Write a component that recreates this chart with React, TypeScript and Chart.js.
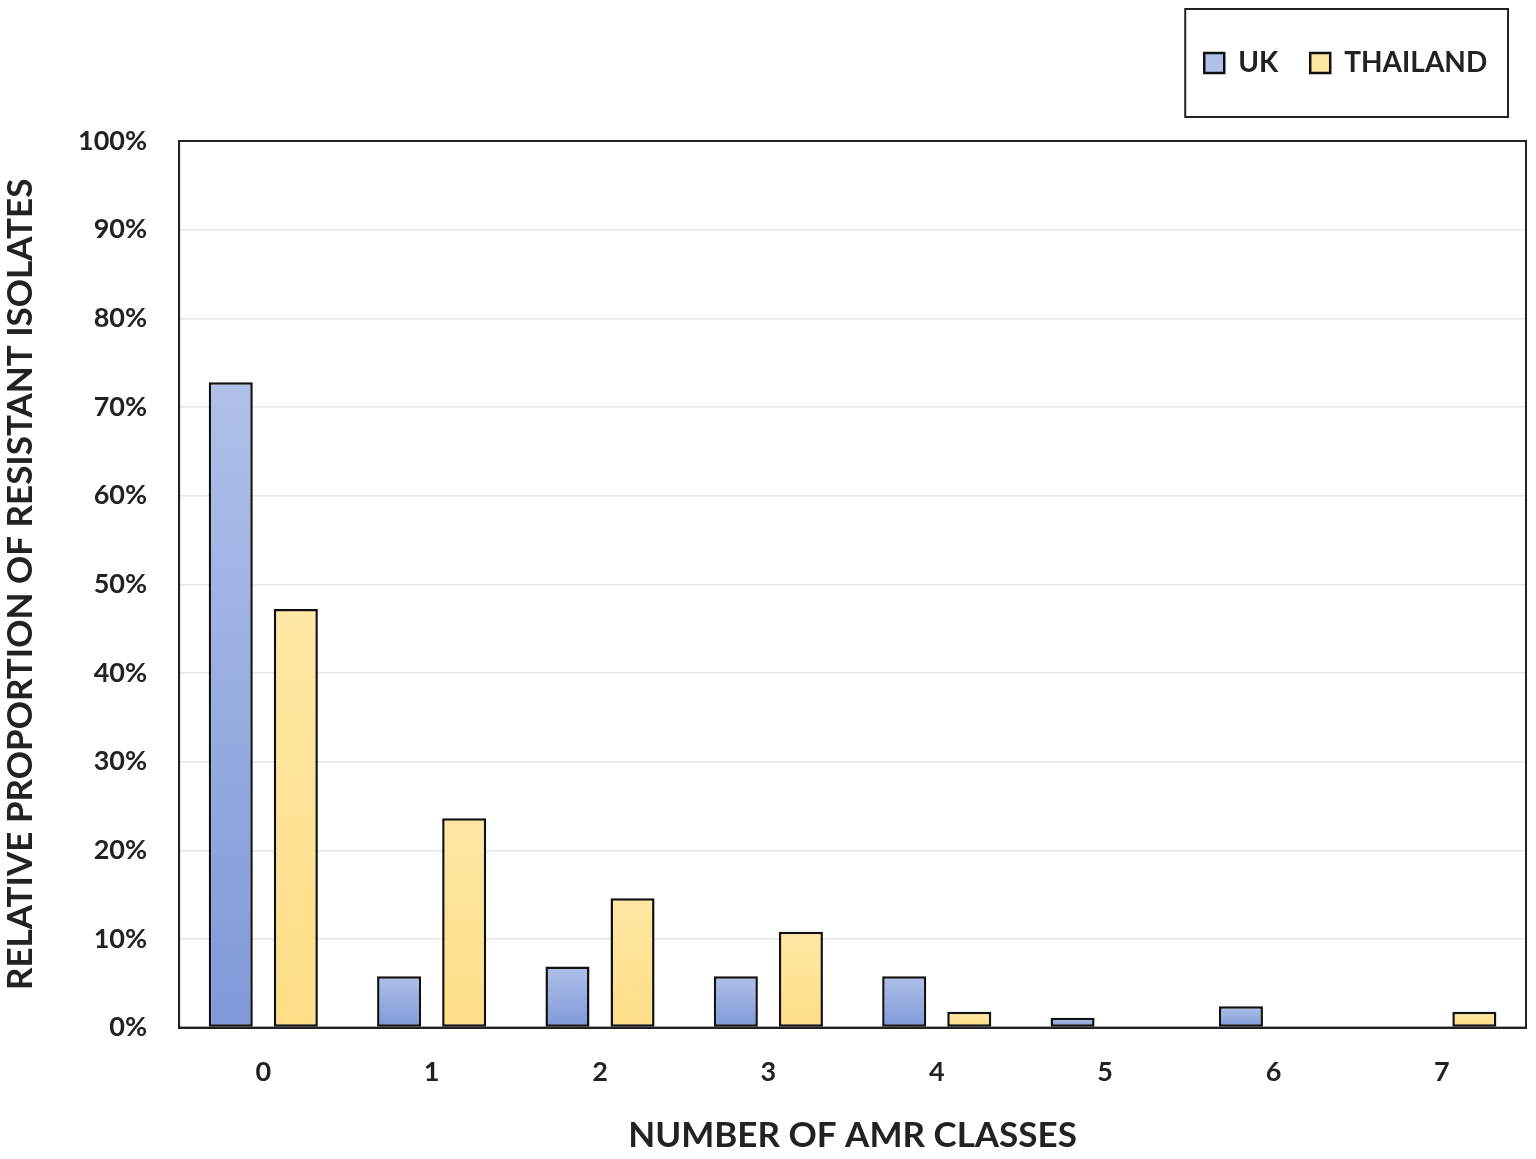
import React, { useEffect, useRef } from 'react';
import { Chart, registerables } from 'chart.js';

Chart.register(...registerables);

// AMR class counts and share of isolates (%) per country
const classes = ['0', '1', '2', '3', '4', '5', '6', '7'];
const ukValues = [72.8, 5.8, 6.9, 5.8, 5.8, 1.1, 2.4, 0];
const thailandValues = [47.2, 23.6, 14.6, 10.8, 1.8, 0, 0, 1.8];
const yTicks = [0, 10, 20, 30, 40, 50, 60, 70, 80, 90, 100];

const FONT = 'Lato, "Open Sans", sans-serif';

const gradientFill = (top: string, bottom: string, fallback: string) => (c: any) => {
  const chart = c.chart;
  const y = chart.scales && chart.scales.y;
  if (!y || c.raw == null) return fallback;
  const y0 = y.getPixelForValue(c.raw);
  const y1 = y.getPixelForValue(0);
  if (!isFinite(y0) || !isFinite(y1) || y0 === y1) return fallback;
  const g = chart.ctx.createLinearGradient(0, y0, 0, y1);
  g.addColorStop(0, top);
  g.addColorStop(1, bottom);
  return g;
};

// frame around the plot area and around the legend
const framePlugin = {
  id: 'frames',
  afterDraw(chart: any) {
    const { ctx, chartArea } = chart;
    ctx.save();
    ctx.strokeStyle = '#222';
    ctx.lineWidth = 2;
    ctx.strokeRect(chartArea.left, chartArea.top, chartArea.right - chartArea.left, chartArea.bottom - chartArea.top);
    const boxes = chart.legend && chart.legend.legendHitBoxes;
    if (boxes && boxes.length) {
      const left = Math.min(...boxes.map((b: any) => b.left));
      const right = Math.max(...boxes.map((b: any) => b.left + b.width));
      const mid = boxes[0].top + boxes[0].height / 2;
      ctx.strokeRect(left - 19, mid - 54, right - left + 33, 108);
    }
    ctx.restore();
  },
};

const App = () => {
  const canvasRef = useRef<HTMLCanvasElement>(null);
  const chartRef = useRef<any>(null);

  useEffect(() => {
    document.body.style.margin = '0';
    if (!canvasRef.current) return;

    const config: any = {
      type: 'bar',
      data: {
        labels: classes,
        datasets: [
          {
            label: 'UK',
            data: ukValues,
            backgroundColor: gradientFill('#b0c0e9', '#7f99d9', '#a3b4e2'),
            borderColor: '#111',
            borderWidth: 2.5,
            borderSkipped: false,
            categoryPercentage: 0.773,
            barPercentage: 0.677,
          },
          {
            label: 'THAILAND',
            data: thailandValues,
            backgroundColor: gradientFill('#ffe8a4', '#fedd86', '#fde28f'),
            borderColor: '#111',
            borderWidth: 2.5,
            borderSkipped: false,
            categoryPercentage: 0.773,
            barPercentage: 0.677,
          },
        ],
      },
      options: {
        animation: false,
        responsive: true,
        maintainAspectRatio: false,
        layout: { padding: { top: 17, right: 10, bottom: 0, left: 0 } },
        plugins: {
          legend: {
            position: 'top',
            align: 'end',
            labels: {
              boxWidth: 20,
              boxHeight: 20,
              padding: 32,
              color: '#222',
              font: { family: FONT, size: 28, weight: 'bold' },
              // trailing space nudges the last item left, as in the original
              generateLabels: (chart: any) => {
                const items = Chart.defaults.plugins.legend.labels.generateLabels(chart);
                return items.map((it: any, i: number) =>
                  i === items.length - 1 ? { ...it, text: it.text + ' ' } : it
                );
              },
            },
          },
          tooltip: { enabled: false },
        },
        scales: {
          x: {
            grid: { display: false },
            border: { display: true, color: '#222', width: 2 },
            ticks: {
              color: '#222',
              padding: 20,
              font: { family: FONT, size: 27, weight: 'bold' },
            },
            title: {
              display: true,
              text: 'NUMBER OF AMR CLASSES',
              color: '#222',
              padding: { top: 7, bottom: 2 },
              font: { family: FONT, size: 35, weight: 'bold' },
            },
          },
          spacer: {
            type: 'category',
            position: 'top',
            grid: { display: false },
            border: { display: false },
            ticks: { display: false },
            afterFit: (s: any) => {
              s.height = 54;
            },
          },
          y: {
            min: 0,
            max: 100,
            afterBuildTicks: (axis: any) => {
              axis.ticks = yTicks.map((v) => ({ value: v }));
            },
            grid: { color: '#e6e6e6', lineWidth: 1.5, drawTicks: false },
            border: { display: true, color: '#222', width: 2 },
            ticks: {
              color: '#222',
              padding: 32,
              font: { family: FONT, size: 27, weight: 'bold' },
              callback: (v: any) => `${v}%`,
            },
            title: {
              display: true,
              text: 'RELATIVE PROPORTION OF RESISTANT ISOLATES',
              color: '#222',
              padding: { top: 0, bottom: 4 },
              font: { family: FONT, size: 35, weight: 'bold' },
            },
          },
        },
      },
      plugins: [framePlugin],
    };

    if (chartRef.current) chartRef.current.destroy();
    chartRef.current = new Chart(canvasRef.current, config);

    return () => {
      if (chartRef.current) {
        chartRef.current.destroy();
        chartRef.current = null;
      }
    };
  }, []);

  return (
    <div style={{ width: 1536, height: 1159, position: 'relative', background: '#fff' }}>
      <canvas ref={canvasRef} />
    </div>
  );
};

export default App;
